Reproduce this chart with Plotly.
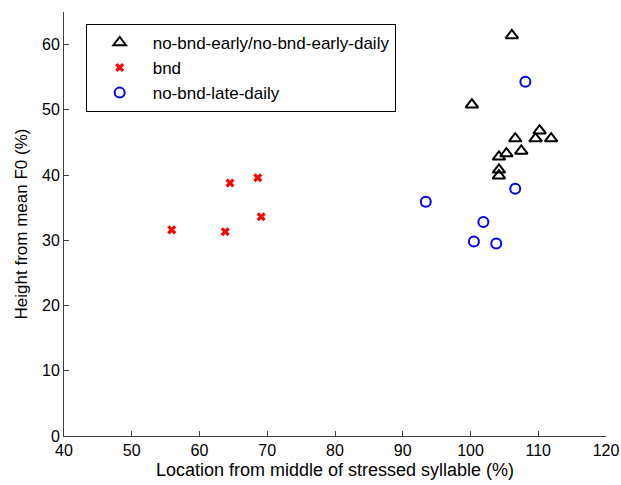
import plotly.graph_objects as go

tri_x = [106.1, 100.2, 110.2, 109.6, 111.9, 106.6, 107.5, 105.3, 104.2, 104.2, 104.2]
tri_y = [61.4, 50.8, 46.8, 45.6, 45.6, 45.6, 43.7, 43.3, 42.8, 40.8, 39.9]
bnd_x = [55.9, 63.8, 64.5, 68.6, 69.1]
bnd_y = [31.6, 31.3, 38.8, 39.6, 33.6]
late_x = [108.1, 106.6, 93.4, 101.9, 100.5, 103.8]
late_y = [54.3, 37.9, 35.9, 32.8, 29.8, 29.5]

x_ticks = [40, 50, 60, 70, 80, 90, 100, 110, 120]
y_ticks = [0, 10, 20, 30, 40, 50, 60]

FONT = "Liberation Sans, Arial, sans-serif"

fig = go.Figure()
fig.add_trace(go.Scatter(x=tri_x, y=tri_y, mode="markers",
                         name="no-bnd-early/no-bnd-early-daily",
                         marker=dict(symbol="triangle-up-open", size=11, color="black",
                                     line=dict(width=2, color="black"))))
fig.add_trace(go.Scatter(x=bnd_x, y=bnd_y, mode="markers", name="bnd",
                         marker=dict(symbol="x", size=8, color="red",
                                     line=dict(width=0))))
fig.add_trace(go.Scatter(x=late_x, y=late_y, mode="markers", name="no-bnd-late-daily",
                         marker=dict(symbol="circle-open", size=10, color="blue",
                                     line=dict(width=2, color="blue"))))

axis_common = dict(showgrid=False, zeroline=False, showline=True, linecolor="#404040",
                   linewidth=1, ticks="inside", ticklen=5, tickcolor="#404040",
                   tickfont=dict(family=FONT, size=16, color="black"), mirror=False,
                   automargin=False)

fig.update_xaxes(range=[40, 120], tickvals=x_ticks,
                 title=dict(text="Location from middle of stressed syllable (%)",
                            font=dict(family=FONT, size=18, color="black"), standoff=5),
                 **axis_common)
fig.update_yaxes(range=[0, 65], tickvals=y_ticks,
                 title=dict(text="Height from mean F0 (%)",
                            font=dict(family=FONT, size=17, color="black"), standoff=10),
                 **axis_common)

fig.update_layout(
    width=621, height=485,
    margin=dict(l=64, r=15, t=12, b=49),
    paper_bgcolor="white", plot_bgcolor="white",
    font=dict(family=FONT, size=16, color="black"),
    legend=dict(x=0.04, y=0.972, xanchor="left", yanchor="top",
                bordercolor="black", borderwidth=1, bgcolor="white",
                font=dict(family=FONT, size=17, color="black"),
                itemwidth=56, tracegroupgap=0),
)

fig.write_html("out.html")
